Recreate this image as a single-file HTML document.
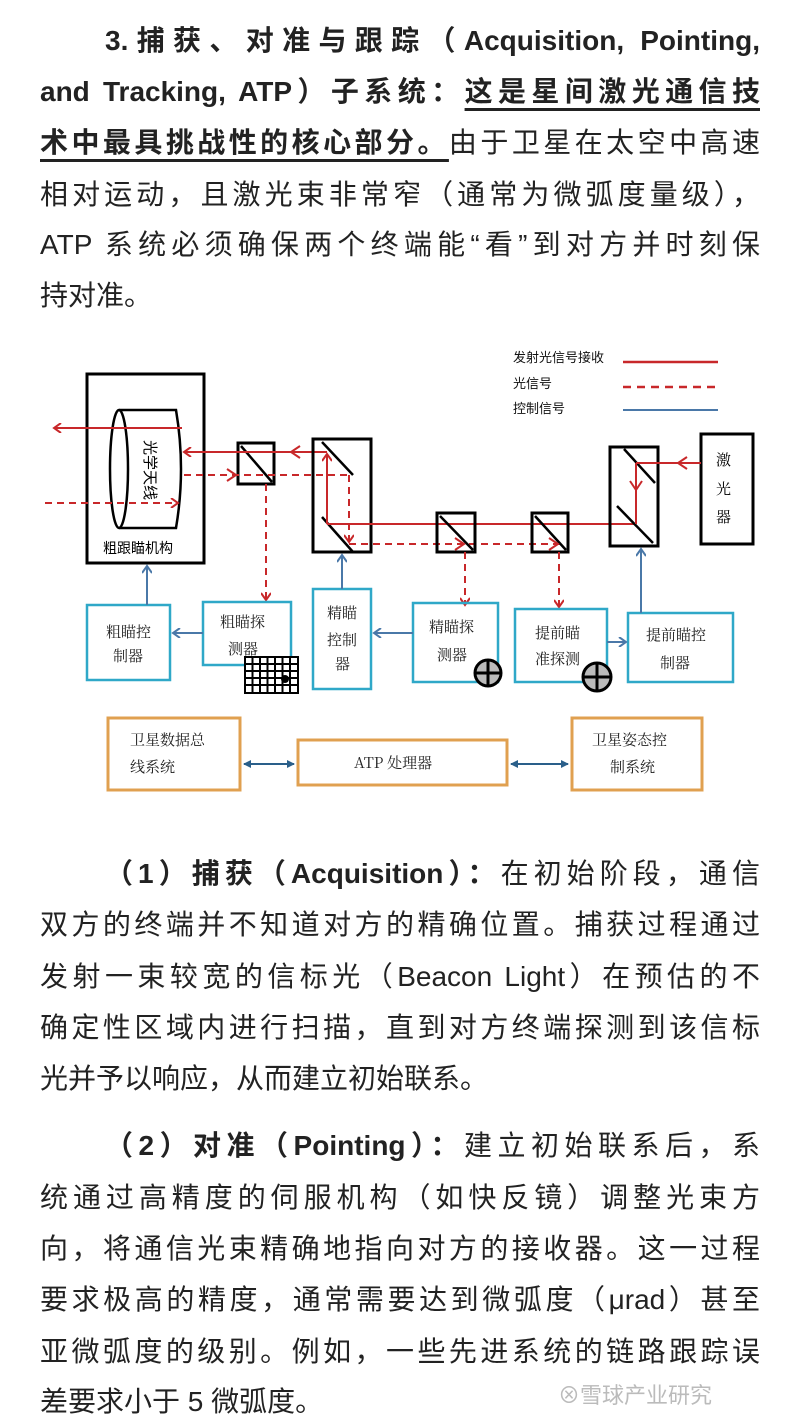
<!DOCTYPE html>
<html><head><meta charset="utf-8"><style>
body{margin:0;background:#fff;width:800px;height:1413px;position:relative;overflow:hidden;font-family:"Liberation Sans","Noto Sans CJK SC",sans-serif;color:#222}
.l{position:absolute;left:40px;width:720px;height:40px;line-height:40px;font-size:28px;text-align:justify;text-align-last:justify;white-space:nowrap}
.n{text-align-last:left}
b{font-weight:bold}
u{text-decoration:underline;text-decoration-thickness:3px;text-underline-offset:7px}
svg text{font-family:"Noto Serif CJK SC","Liberation Serif",serif}
</style></head><body>
<div class="l" style="top:21px;left:105px;width:655px"><b>3.捕获、对准与跟踪（Acquisition, Pointing,</b></div>
<div class="l" style="top:72px"><b>and Tracking, ATP）子系统：<u>这是星间激光通信技</u></b></div>
<div class="l" style="top:123px"><b><u>术中最具挑战性的核心部分。</u></b>由于卫星在太空中高速</div>
<div class="l" style="top:175px">相对运动，且激光束非常窄（通常为微弧度量级），</div>
<div class="l" style="top:225px">ATP 系统必须确保两个终端能“看”到对方并时刻保</div>
<div class="l n" style="top:276px">持对准。</div>

<svg style="position:absolute;left:0;top:0" width="800" height="820" viewBox="0 0 800 820">
<defs>
<marker id="ar" markerWidth="10" markerHeight="10" refX="8" refY="5" orient="auto" markerUnits="userSpaceOnUse"><path d="M1,0 L8,5 L1,10" fill="none" stroke="#c8282a" stroke-width="2"/></marker>
<marker id="ab" markerWidth="10" markerHeight="10" refX="8" refY="5" orient="auto" markerUnits="userSpaceOnUse"><path d="M1,0 L8,5 L1,10" fill="none" stroke="#4a78a8" stroke-width="2"/></marker>
<marker id="ad" markerWidth="8" markerHeight="8" refX="7" refY="4" orient="auto-start-reverse" markerUnits="userSpaceOnUse"><path d="M0,0 L8,4 L0,8z" fill="#2a5f8a"/></marker>
</defs>
<g font-family="Liberation Sans,Noto Sans CJK SC,sans-serif" font-size="13" fill="#111">
<text x="513" y="362" style="font-family:'Noto Sans CJK SC',sans-serif">发射光信号接收</text>
<text x="513" y="388" style="font-family:'Noto Sans CJK SC',sans-serif">光信号</text>
<text x="513" y="413" style="font-family:'Noto Sans CJK SC',sans-serif">控制信号</text>
</g>
<line x1="623" y1="362" x2="718" y2="362" stroke="#c8282a" stroke-width="2.5"/>
<line x1="623" y1="387" x2="718" y2="387" stroke="#c8282a" stroke-width="2.5" stroke-dasharray="8,6"/>
<line x1="623" y1="410" x2="718" y2="410" stroke="#4a78a8" stroke-width="2"/>

<!-- coarse mechanism -->
<rect x="87" y="374" width="117" height="189" fill="none" stroke="#000" stroke-width="3"/>
<path d="M119,410 L176,410 Q186,469 176,528 L119,528" fill="none" stroke="#000" stroke-width="2.5"/>
<ellipse cx="119" cy="469" rx="9" ry="59" fill="none" stroke="#000" stroke-width="2.5"/>
<text x="0" y="0" font-size="15" transform="translate(145,440) rotate(90)" style="font-family:'Noto Sans CJK SC',sans-serif">光学天线</text>
<text x="103" y="553" font-size="14" style="font-family:'Noto Sans CJK SC',sans-serif">粗跟瞄机构</text>
<line x1="182" y1="428" x2="54" y2="428" stroke="#c8282a" stroke-width="2" marker-end="url(#ar)"/>
<line x1="45" y1="503" x2="178" y2="503" stroke="#c8282a" stroke-width="2" stroke-dasharray="7,5" marker-end="url(#ar)"/>

<!-- BS1 -->
<rect x="238" y="443" width="36" height="41" fill="none" stroke="#000" stroke-width="3"/>
<line x1="241" y1="446" x2="272" y2="482" stroke="#000" stroke-width="2.5"/>
<line x1="327" y1="452" x2="184" y2="452" stroke="#c8282a" stroke-width="2" marker-end="url(#ar)"/>
<path d="M300,446 L291,452 L300,458" fill="none" stroke="#c8282a" stroke-width="2"/>
<line x1="184" y1="475" x2="350" y2="475" stroke="#c8282a" stroke-width="2" stroke-dasharray="7,5"/>
<path d="M227,469 L236,475 L227,481" fill="none" stroke="#c8282a" stroke-width="2"/>
<line x1="266" y1="484" x2="266" y2="600" stroke="#c8282a" stroke-width="2" stroke-dasharray="7,5" marker-end="url(#ar)"/>

<!-- mirror box 2 -->
<rect x="313" y="439" width="58" height="113" fill="none" stroke="#000" stroke-width="3"/>
<line x1="322" y1="442" x2="353" y2="475" stroke="#000" stroke-width="2.5"/>
<line x1="322" y1="517" x2="353" y2="552" stroke="#000" stroke-width="2.5"/>
<line x1="327" y1="524" x2="327" y2="454" stroke="#c8282a" stroke-width="2" marker-end="url(#ar)"/>
<line x1="327" y1="524" x2="636" y2="524" stroke="#c8282a" stroke-width="2"/>
<line x1="349" y1="475" x2="349" y2="542" stroke="#c8282a" stroke-width="2" stroke-dasharray="7,5" marker-end="url(#ar)"/>
<line x1="349" y1="544" x2="560" y2="544" stroke="#c8282a" stroke-width="2" stroke-dasharray="7,5"/>

<!-- BS3, BS4 -->
<rect x="437" y="513" width="38" height="39" fill="none" stroke="#000" stroke-width="3"/>
<line x1="440" y1="516" x2="473" y2="550" stroke="#000" stroke-width="2.5"/>
<rect x="532" y="513" width="36" height="39" fill="none" stroke="#000" stroke-width="3"/>
<line x1="535" y1="516" x2="566" y2="550" stroke="#000" stroke-width="2.5"/>
<path d="M455,538 L464,544 L455,550" fill="none" stroke="#c8282a" stroke-width="2"/>
<path d="M549,538 L558,544 L549,550" fill="none" stroke="#c8282a" stroke-width="2"/>
<line x1="465" y1="552" x2="465" y2="605" stroke="#c8282a" stroke-width="2" stroke-dasharray="7,5" marker-end="url(#ar)"/>
<line x1="559" y1="552" x2="559" y2="607" stroke="#c8282a" stroke-width="2" stroke-dasharray="7,5" marker-end="url(#ar)"/>

<!-- mirror box 5 & laser -->
<rect x="610" y="447" width="48" height="99" fill="none" stroke="#000" stroke-width="3"/>
<line x1="624" y1="449" x2="655" y2="483" stroke="#000" stroke-width="2.5"/>
<line x1="617" y1="506" x2="653" y2="543" stroke="#000" stroke-width="2.5"/>
<rect x="701" y="434" width="52" height="110" fill="none" stroke="#000" stroke-width="3"/>
<text x="716" y="465" font-size="15">激</text><text x="716" y="494" font-size="15">光</text><text x="716" y="522" font-size="15">器</text>
<line x1="701" y1="463" x2="636" y2="463" stroke="#c8282a" stroke-width="2"/>
<path d="M687,457 L678,463 L687,469" fill="none" stroke="#c8282a" stroke-width="2"/>
<line x1="636" y1="463" x2="636" y2="524" stroke="#c8282a" stroke-width="2"/>
<path d="M630,481 L636,490 L642,481" fill="none" stroke="#c8282a" stroke-width="2"/>

<!-- cyan boxes -->
<g fill="none" stroke="#2fa8c8" stroke-width="2.5">
<rect x="87" y="605" width="83" height="75"/>
<rect x="203" y="602" width="88" height="63"/>
<rect x="313" y="589" width="58" height="100"/>
<rect x="413" y="603" width="85" height="79"/>
<rect x="515" y="609" width="92" height="73"/>
<rect x="628" y="613" width="105" height="69"/>
</g>
<g font-size="15" fill="#222">
<text x="106" y="637">粗瞄控</text><text x="113" y="661">制器</text>
<text x="220" y="627">粗瞄探</text><text x="228" y="654">测器</text>
<text x="327" y="618">精瞄</text><text x="327" y="645">控制</text><text x="335" y="669">器</text>
<text x="429" y="632">精瞄探</text><text x="437" y="660">测器</text>
<text x="535" y="638">提前瞄</text><text x="535" y="664">准探测</text>
<text x="646" y="640">提前瞄控</text><text x="660" y="668">制器</text>
</g>
<!-- blue arrows -->
<g stroke="#4a78a8" stroke-width="2">
<line x1="147" y1="605" x2="147" y2="566" marker-end="url(#ab)"/>
<line x1="203" y1="633" x2="173" y2="633" marker-end="url(#ab)"/>
<line x1="342" y1="589" x2="342" y2="555" marker-end="url(#ab)"/>
<line x1="413" y1="633" x2="374" y2="633" marker-end="url(#ab)"/>
<line x1="607" y1="642" x2="626" y2="642" marker-end="url(#ab)"/>
<line x1="641" y1="613" x2="641" y2="549" marker-end="url(#ab)"/>
</g>
<!-- grid -->
<rect x="245" y="657" width="53" height="36" fill="#000"/>
<g fill="#fff">
<rect x="247" y="659" width="5" height="5"/>
</g>
<path d="M245,657 h53 v36 h-53z M252.5,657v36 M260,657v36 M267.5,657v36 M275,657v36 M282.5,657v36 M290,657v36 M245,664h53 M245,671h53 M245,678h53 M245,685h53" fill="#fff" stroke="#000" stroke-width="2"/>
<circle cx="285" cy="679" r="4" fill="#000"/>
<!-- crosshairs -->
<g stroke="#000" stroke-width="3">
<circle cx="488" cy="673" r="13" fill="#bbb"/><line x1="475" y1="673" x2="501" y2="673"/><line x1="488" y1="660" x2="488" y2="686"/>
<circle cx="597" cy="677" r="14" fill="#bbb"/><line x1="583" y1="677" x2="611" y2="677"/><line x1="597" y1="663" x2="597" y2="691"/>
</g>
<!-- orange row -->
<g fill="none" stroke="#e0a050" stroke-width="3">
<rect x="108" y="718" width="132" height="72"/>
<rect x="298" y="740" width="209" height="45"/>
<rect x="572" y="718" width="130" height="72"/>
</g>
<g font-size="15" fill="#222">
<text x="130" y="745">卫星数据总</text><text x="130" y="772">线系统</text>
<text x="354" y="768">ATP 处理器</text>
<text x="592" y="745">卫星姿态控</text><text x="610" y="772">制系统</text>
</g>
<line x1="244" y1="764" x2="294" y2="764" stroke="#2a5f8a" stroke-width="2" marker-start="url(#ad)" marker-end="url(#ad)"/>
<line x1="511" y1="764" x2="568" y2="764" stroke="#2a5f8a" stroke-width="2" marker-start="url(#ad)" marker-end="url(#ad)"/>
</svg>

<div class="l" style="top:854px;left:105px;width:655px"><b>（1）捕获（Acquisition）：</b>在初始阶段，通信</div>
<div class="l" style="top:905px">双方的终端并不知道对方的精确位置。捕获过程通过</div>
<div class="l" style="top:957px">发射一束较宽的信标光（Beacon Light）在预估的不</div>
<div class="l" style="top:1008px">确定性区域内进行扫描，直到对方终端探测到该信标</div>
<div class="l n" style="top:1059px">光并予以响应，从而建立初始联系。</div>

<div class="l" style="top:1126px;left:105px;width:655px"><b>（2）对准（Pointing）：</b>建立初始联系后，系</div>
<div class="l" style="top:1178px">统通过高精度的伺服机构（如快反镜）调整光束方</div>
<div class="l" style="top:1229px">向，将通信光束精确地指向对方的接收器。这一过程</div>
<div class="l" style="top:1280px">要求极高的精度，通常需要达到微弧度（μrad）甚至</div>
<div class="l" style="top:1332px">亚微弧度的级别。例如，一些先进系统的链路跟踪误</div>
<div class="l n" style="top:1382px">差要求小于 5 微弧度。</div>
<div style="position:absolute;left:558px;top:1378px;font-size:22px;color:#bbb;font-family:'Noto Sans CJK SC',sans-serif;background:rgba(255,255,255,0.5)">⊗雪球产业研究</div>
</body></html>
